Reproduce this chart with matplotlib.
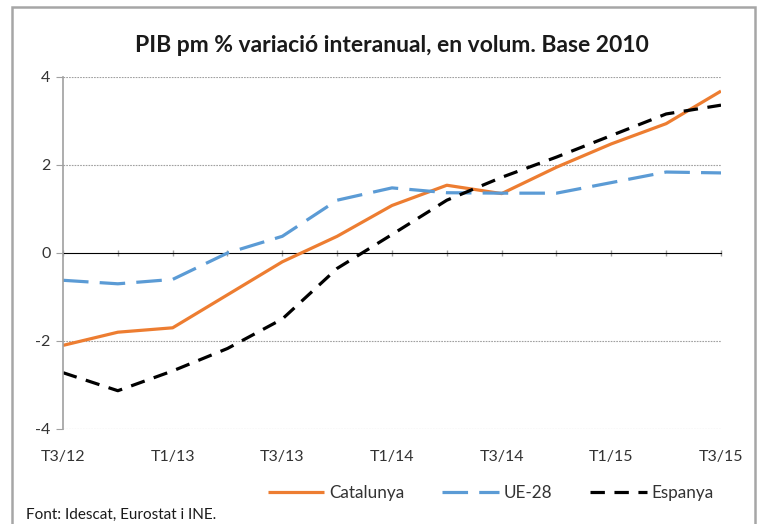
import matplotlib
matplotlib.use("Agg")
import matplotlib.pyplot as plt
from matplotlib.patches import Rectangle

plt.rcParams['font.family'] = ['Lato', 'DejaVu Sans']

quarters = ["T3/12", "T4/12", "T1/13", "T2/13", "T3/13", "T4/13", "T1/14",
            "T2/14", "T3/14", "T4/14", "T1/15", "T2/15", "T3/15"]
catalunya = [-2.1, -1.8, -1.7, -0.95, -0.2, 0.38, 1.08, 1.54, 1.35, 1.95, 2.48, 2.94, 3.68]
ue28 = [-0.62, -0.7, -0.6, 0.0, 0.38, 1.2, 1.48, 1.37, 1.36, 1.36, 1.6, 1.84, 1.82]
espanya = [-2.72, -3.13, -2.68, -2.17, -1.5, -0.35, 0.42, 1.2, 1.72, 2.18, 2.67, 3.16, 3.36]
yticks = [-4, -2, 0, 2, 4]

x = list(range(len(quarters)))

fig = plt.figure(figsize=(7.58, 5.24), dpi=100)
ax = fig.add_axes([63 / 758, 1 - 429 / 524, (721 - 63) / 758, (429 - 77) / 524])

l1, = ax.plot(x, catalunya, color="#ED7D31", lw=2.3, label="Catalunya", solid_capstyle="butt")
l2, = ax.plot(x, ue28, color="#5B9BD5", lw=2.3, dashes=(8, 3.5), label="UE-28")
l3, = ax.plot(x, espanya, color="black", lw=2.3, dashes=(4.5, 3), label="Espanya")

ax.set_xlim(0, 12)
ax.set_ylim(-4, 4)
ax.set_yticks(yticks)
ax.set_yticklabels([str(v) for v in yticks], fontsize=11.5, color="#333333")
for v in yticks:
    if v != 0:
        ax.axhline(v, color="#A0A0A0", lw=0.8, ls=(0, (1.5, 1)), zorder=0)

ax.set_xticks(x[::2])
ax.set_xticklabels(quarters[::2], fontsize=11.5, color="#333333")
ax.tick_params(axis="x", length=0, pad=15)
ax.tick_params(axis="y", length=5, color="#A0A0A0", pad=4, direction="out")

for s in ["top", "right", "bottom"]:
    ax.spines[s].set_visible(False)
ax.spines["left"].set_color("#A0A0A0")
ax.spines["left"].set_linewidth(1.2)

# eix del zero amb marques creuades
sec = ax.secondary_xaxis(0.5)
sec.set_xticks(x)
sec.set_xticklabels([])
sec.tick_params(length=5, direction="inout", color="#A0A0A0", width=1)
sec.spines["bottom"].set_color("#A0A0A0")
sec.spines["bottom"].set_linewidth(1.2)

fig.text(392 / 758, 1 - 45 / 524, "PIB pm % variació interanual, en volum. Base 2010",
         ha="center", va="center", fontsize=16.5, fontweight="bold", color="#1a1a1a")

fig.legend(handles=[l1, l2, l3], loc="center", bbox_to_anchor=(491 / 758, 1 - 493 / 524),
           ncol=3, frameon=False, fontsize=12.3, handlelength=3.3, columnspacing=2.2,
           handletextpad=0.3, labelcolor="#333333")

fig.text(26 / 758, 1 - 515 / 524, "Font: Idescat, Eurostat i INE.", ha="left", va="center",
         fontsize=11, color="#1a1a1a")

fig.patches.append(Rectangle((12 / 758, -0.05), (755 - 12) / 758, 1.05 - 7 / 524,
                             transform=fig.transFigure, fill=False, ec="#A6A6A6", lw=1.8))

fig.savefig("out.png", dpi=100)
